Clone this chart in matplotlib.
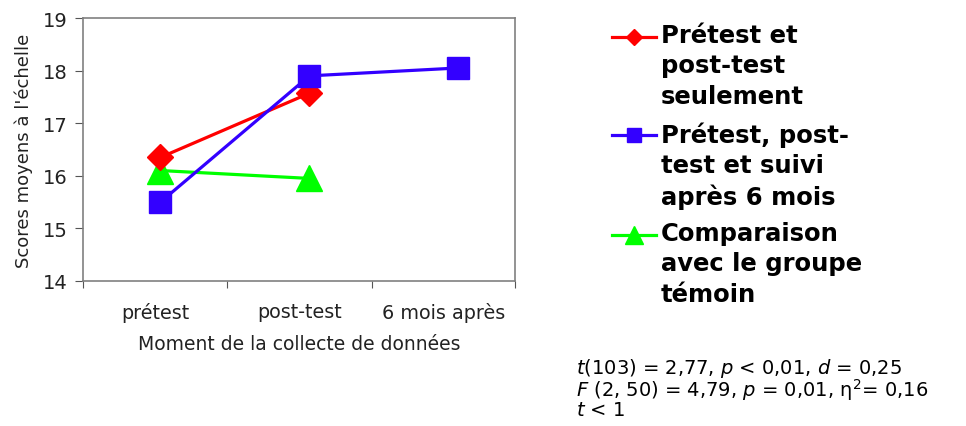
import matplotlib.pyplot as plt
from matplotlib.lines import Line2D
import numpy as np

moments = ['prétest', 'post-test', '6 mois après']
# scores moyens par groupe
rougeY = [16.35, 17.57]
bleuY = [15.5, 17.9, 18.05]
vertY = [16.1, 15.95]

noms = ['Prétest et\npost-test\nseulement',
        'Prétest, post-\ntest et suivi\naprès 6 mois',
        'Comparaison\navec le groupe\ntémoin']
couleurs = ['#ff0000', '#3300ff', '#00ff00']
marqueurs = ['D', 's', '^']
tailles = [13, 16, 19]

stats = ['$t$(103) = 2,77, $p$ < 0,01, $d$ = 0,25',
         '$F$ (2, 50) = 4,79, $p$ = 0,01, η$^2$= 0,16',
         '$t$ < 1']

plt.rcParams['mathtext.fontset'] = 'dejavusans'

fig = plt.figure(figsize=(9.66, 4.27), dpi=100)
ax = fig.add_axes([0.0859, 0.3396, 0.4472, 0.6159])

series = [rougeY, bleuY, vertY]
for i in range(3):
    x = np.arange(len(series[i]))
    ax.plot(x, series[i], '-', color=couleurs[i], lw=2.3, marker=marqueurs[i],
            ms=tailles[i], mec=couleurs[i], mfc=couleurs[i], zorder=3 - i * 0.1 + (i == 1) * 0.5)

ax.set_ylim(14, 19)
ax.set_yticks([14, 15, 16, 17, 18, 19])
ax.set_xlim(-0.52, 2.38)
# ticks aux frontières des catégories, étiquettes au milieu
ax.set_xticks([-0.52, 0.45, 1.42, 2.38])
ax.set_xticklabels([])
ax.set_xticks([-0.035, 0.935, 1.9], minor=True)
ax.set_xticklabels(moments, minor=True, fontsize=13.8, color='#222222')
ax.tick_params(axis='x', which='minor', length=0, pad=15)
ax.tick_params(axis='x', which='major', length=5, color='#555555', direction='out')
ax.tick_params(axis='y', labelsize=14, length=6, color='#555555', labelcolor='#222222', pad=5)
for s in ax.spines.values():
    s.set_color('#808080')
    s.set_linewidth(1.2)

ax.set_xlabel('Moment de la collecte de données', fontsize=13.5, color='#222222', labelpad=9)
ax.set_ylabel("Scores moyens à l'échelle", fontsize=13, color='#222222', labelpad=7)

# légende faite à la main
H = 427.0
W = 966.0
yEntree = [38, 136, 236]
for i in range(3):
    yf = 1 - yEntree[i] / H
    fig.add_artist(Line2D([612 / W, 656 / W], [yf, yf], color=couleurs[i], lw=2.3,
                          transform=fig.transFigure))
    fig.add_artist(Line2D([634 / W], [yf], color=couleurs[i], marker=marqueurs[i],
                          ms=tailles[i] * 0.65, transform=fig.transFigure))
    fig.text(661 / W, 1 - (yEntree[i] - 14) / H, noms[i], fontsize=17.5, fontweight='bold',
             va='top', ha='left', linespacing=1.33)

fig.text(576 / W, 1 - 357 / H, '\n'.join(stats), fontsize=14, va='top', ha='left',
         linespacing=0.86)

fig.savefig('out.png', dpi=100)
